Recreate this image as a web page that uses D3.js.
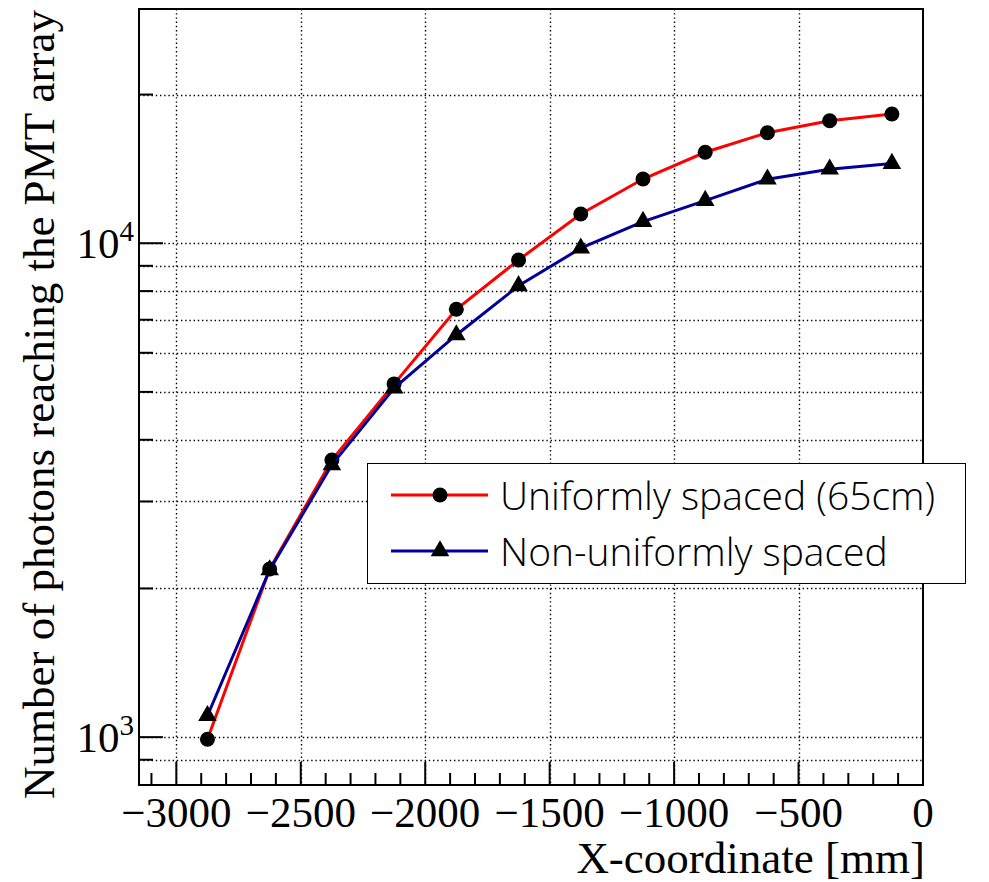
<!DOCTYPE html>
<html>
<head>
<meta charset="utf-8">
<script src="https://cdn.jsdelivr.net/npm/d3@7"></script>
<style>
  body { margin: 0; background: #fff; }
  svg { display: block; }
</style>
</head>
<body>
<script>
// x positions of the scan points [mm]
const xPositions = [-2875, -2625, -2375, -2125, -1875, -1625, -1375, -1125, -875, -625, -375, -125];
// photons reaching the PMT array
const uniformValues = [990, 2190, 3640, 5190, 7350, 9250, 11460, 13490, 15280, 16740, 17700, 18270];
const nonUniformValues = [1105, 2180, 3560, 5090, 6520, 8200, 9770, 11060, 12200, 13480, 14120, 14500];
const seriesNames = ['Uniformly spaced (65cm)', 'Non-uniformly spaced'];
const xTickLabels = ['\u22123000', '\u22122500', '\u22122000', '\u22121500', '\u22121000', '\u2212500', '0'];
const xTickValues = [-3000, -2500, -2000, -1500, -1000, -500, 0];

const width = 989;
const height = 882;
const margin = { left: 139, right: 66, top: 9, bottom: 97 };

const svg = d3.select('body').append('svg')
    .attr('width', width)
    .attr('height', height);

const x = d3.scaleLinear()
    .domain([-3150, 0])
    .range([margin.left, width - margin.right]);

const y = d3.scaleLog()
    .domain([800, 29800])
    .range([height - margin.bottom, margin.top]);

const serif = '"Liberation Serif", "Times New Roman", serif';

// grid lines (dotted)
const yGrid = [];
for (let dec = 100; dec <= 10000; dec *= 10) {
    for (let k = 1; k <= 9; k++) {
        const v = k * dec;
        if (v > y.domain()[0] && v < y.domain()[1]) yGrid.push(v);
    }
}
const grid = svg.append('g').attr('stroke', '#000').attr('stroke-width', 1.4)
    .attr('stroke-dasharray', '1.4,2.8');
grid.selectAll('.gx').data(xTickValues.filter(v => v > -3150 && v < 0))
    .enter().append('line')
    .attr('x1', d => Math.round(x(d)) + 0.5).attr('x2', d => Math.round(x(d)) + 0.5)
    .attr('y1', y.range()[1]).attr('y2', y.range()[0]);
grid.selectAll('.gy').data(yGrid)
    .enter().append('line')
    .attr('y1', d => Math.round(y(d)) + 0.5).attr('y2', d => Math.round(y(d)) + 0.5)
    .attr('x1', x.range()[0]).attr('x2', x.range()[1]);

// ticks
const ticks = svg.append('g').attr('stroke', '#000').attr('stroke-width', 2);
const xMinor = d3.range(-3100, 0, 100);
ticks.selectAll('.tx').data(xMinor)
    .enter().append('line')
    .attr('x1', d => x(d)).attr('x2', d => x(d))
    .attr('y1', y.range()[0])
    .attr('y2', d => y.range()[0] - (d % 500 === 0 ? 23 : 12));
ticks.selectAll('.ty').data(yGrid)
    .enter().append('line')
    .attr('y1', d => y(d)).attr('y2', d => y(d))
    .attr('x1', x.range()[0])
    .attr('x2', d => x.range()[0] + (Math.log10(d) % 1 === 0 ? 24 : 14));

// frame
svg.append('rect')
    .attr('x', x.range()[0]).attr('y', y.range()[1])
    .attr('width', x.range()[1] - x.range()[0])
    .attr('height', y.range()[0] - y.range()[1])
    .attr('fill', 'none').attr('stroke', '#000').attr('stroke-width', 2);

// x tick labels
svg.append('g').selectAll('text').data(xTickValues)
    .enter().append('text')
    .attr('x', d => x(d))
    .attr('y', 827)
    .attr('text-anchor', 'middle')
    .attr('font-family', serif).attr('font-size', 43)
    .text((d, i) => xTickLabels[i]);

// y tick labels 10^3, 10^4
const yLabels = svg.append('g');
[1000, 10000].forEach(v => {
    const t = yLabels.append('text')
        .attr('x', 134).attr('y', y(v) + 15)
        .attr('text-anchor', 'end')
        .attr('font-family', serif).attr('font-size', 43);
    t.append('tspan').text('10');
    t.append('tspan').attr('dy', -17).attr('font-size', 29).text(Math.log10(v));
});

// axis titles
svg.append('text')
    .attr('x', x.range()[1] + 2).attr('y', 873)
    .attr('text-anchor', 'end')
    .attr('font-family', serif).attr('font-size', 45)
    .text('X-coordinate [mm]');
svg.append('text')
    .attr('transform', 'translate(54,10) rotate(-90)')
    .attr('text-anchor', 'end')
    .attr('font-family', serif).attr('font-size', 45)
    .text('Number of photons reaching the PMT array');

// graphs
const circle = d3.symbol().type(d3.symbolCircle).size(Math.PI * 7.5 * 7.5);
const triangle = d3.symbol().type(d3.symbolTriangle).size(150);
const line = d3.line().x(d => x(d[0])).y(d => y(d[1]));

function drawGraph(values, color, shape) {
    const pts = xPositions.map((v, i) => [v, values[i]]);
    svg.append('path').datum(pts)
        .attr('d', line)
        .attr('fill', 'none').attr('stroke', color).attr('stroke-width', 3);
    svg.append('g').selectAll('path').data(pts)
        .enter().append('path')
        .attr('d', shape)
        .attr('transform', d => `translate(${x(d[0])},${y(d[1])})`)
        .attr('fill', '#000');
}
drawGraph(uniformValues, '#ff0000', circle);
drawGraph(nonUniformValues, '#000099', triangle);

// legend
const legend = svg.append('g');
legend.append('rect')
    .attr('x', 367.5).attr('y', 463.5).attr('width', 598).attr('height', 120)
    .attr('fill', '#fff').attr('stroke', '#000').attr('stroke-width', 1);
const legendRows = [
    { name: seriesNames[0], color: '#ff0000', shape: circle, cy: 495 },
    { name: seriesNames[1], color: '#000099', shape: triangle, cy: 551 }
];
legendRows.forEach(r => {
    legend.append('line')
        .attr('x1', 391).attr('x2', 488).attr('y1', r.cy).attr('y2', r.cy)
        .attr('stroke', r.color).attr('stroke-width', 3);
    legend.append('path').attr('d', r.shape)
        .attr('transform', `translate(440,${r.cy})`).attr('fill', '#000');
    legend.append('text')
        .attr('x', 500).attr('y', r.cy + 15)
        .attr('font-family', '"Open Sans", "Noto Sans", sans-serif')
        .attr('font-weight', 300)
        .attr('font-size', 39)
        .text(r.name);
});
</script>
</body>
</html>
